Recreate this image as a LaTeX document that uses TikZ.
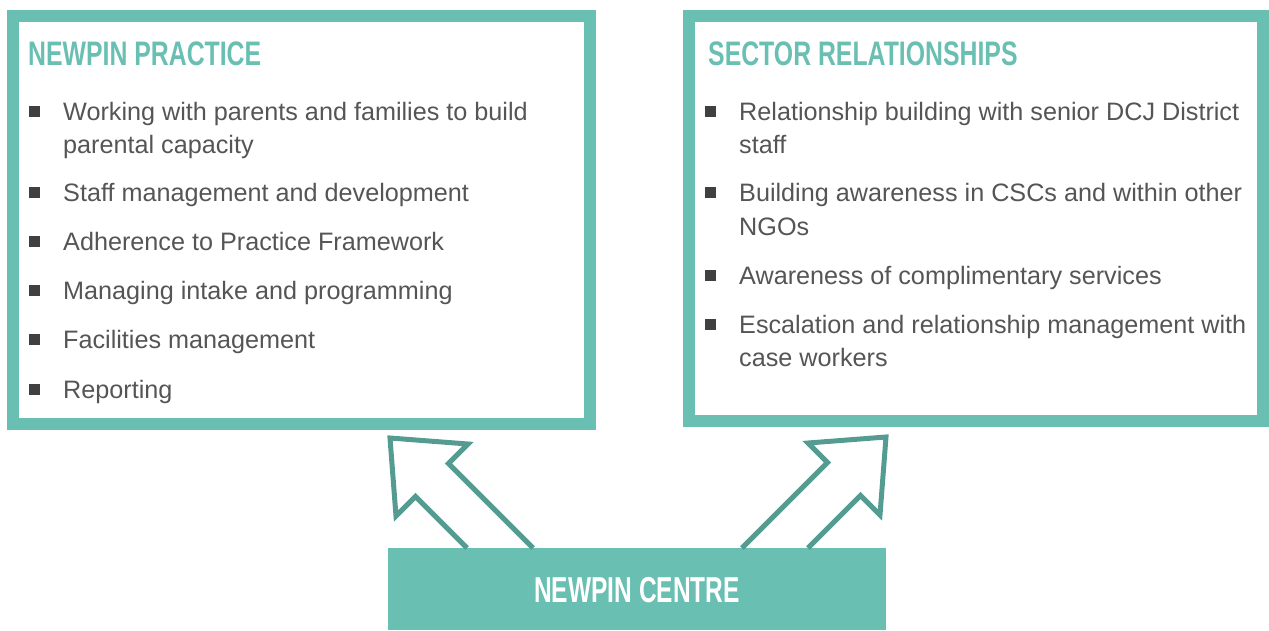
\documentclass[tikz,border=0pt]{standalone}
\usepackage{fontspec}
\setmainfont{Liberation Sans}
\newfontfamily\headfont[FakeStretch=0.73]{Liberation Sans}
\newfontfamily\centrefont[FakeStretch=0.68]{Liberation Sans}
\definecolor{npteal}{RGB}{106,191,179}
\definecolor{nparrow}{RGB}{84,156,145}
\definecolor{nptext}{RGB}{85,85,85}
\definecolor{npbullet}{RGB}{64,64,64}
\begin{document}
\begin{tikzpicture}[x=1pt,y=-1pt,
  frame/.style={draw=npteal,line width=12pt,inner sep=0pt,outer sep=0pt},
  centrebox/.style={fill=npteal,inner sep=0pt,outer sep=0pt,minimum width=498pt,minimum height=82pt},
  header/.style={anchor=base west,inner sep=0pt,text=npteal,font=\headfont\bfseries\fontsize{34}{34}\selectfont},
  centrelabel/.style={anchor=base,inner sep=0pt,text=white,font=\centrefont\bfseries\fontsize{36}{36}\selectfont},
  itemline/.style={anchor=base west,inner sep=0pt,text=nptext,font=\fontsize{25.2}{33}\selectfont},
  bulletsq/.style={fill=npbullet,inner sep=0pt,minimum size=11pt},
  arrowline/.style={draw=nparrow,line width=5pt,line join=miter}
]
\useasboundingbox (0,0) rectangle (1269,630);
% frames
\node[frame,minimum width=576.5pt,minimum height=408pt] (practice) at (301.5,220) {};
\node[frame,minimum width=574pt,minimum height=405pt] (sector) at (975.5,218.5) {};
% centre
\node[centrebox] (centre) at (637,589) {};
\node[centrelabel] (centrelbl) at (637,602) {NEWPIN CENTRE};
% arrows
\coordinate (la1) at (467,548);
\coordinate (la2) at (533,548);
\coordinate (ra1) at (742,548);
\coordinate (ra2) at (808,548);
\draw[arrowline] (la1) -- (415.5,496.5) -- (396,516) -- (390,438) -- (468,444) -- (448.5,463.5) -- (la2);
\draw[arrowline] (ra1) -- (827.5,462.5) -- (808,443) -- (886,437) -- (880,515) -- (860.5,495.5) -- (ra2);
% headers
\node[header] (ph) at (28,65) {NEWPIN PRACTICE};
\node[header] (sh) at (708,65) {SECTOR RELATIONSHIPS};
% left items
\node[bulletsq] (pb1) at (34,111) {};
\node[itemline] (p1a) at (63,120) {Working with parents and families to build};
\node[itemline] (p1b) at (63,153) {parental capacity};
\node[bulletsq] (pb2) at (34,192) {};
\node[itemline] (p2) at (63,201) {Staff management and development};
\node[bulletsq] (pb3) at (34,241) {};
\node[itemline] (p3) at (63,250) {Adherence to Practice Framework};
\node[bulletsq] (pb4) at (34,290) {};
\node[itemline] (p4) at (63,299) {Managing intake and programming};
\node[bulletsq] (pb5) at (34,339) {};
\node[itemline] (p5) at (63,348) {Facilities management};
\node[bulletsq] (pb6) at (34,389) {};
\node[itemline] (p6) at (63,398) {Reporting};
% right items
\node[bulletsq] (sb1) at (710,111) {};
\node[itemline] (s1a) at (739,120) {Relationship building with senior DCJ District};
\node[itemline] (s1b) at (739,153) {staff};
\node[bulletsq] (sb2) at (710,192) {};
\node[itemline] (s2a) at (739,201) {Building awareness in CSCs and within other};
\node[itemline] (s2b) at (739,235) {NGOs};
\node[bulletsq] (sb3) at (710,275) {};
\node[itemline] (s3) at (739,284) {Awareness of complimentary services};
\node[bulletsq] (sb4) at (710,324) {};
\node[itemline] (s4a) at (739,333) {Escalation and relationship management with};
\node[itemline] (s4b) at (739,366) {case workers};
\end{tikzpicture}
\end{document}
